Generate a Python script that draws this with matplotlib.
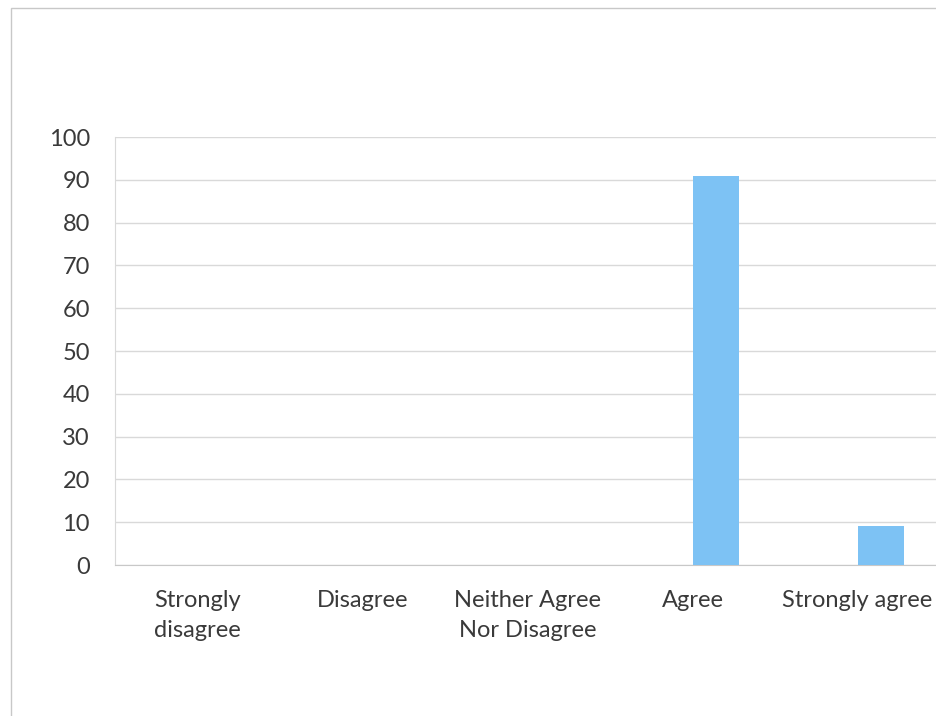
import matplotlib
matplotlib.use("Agg")
import matplotlib.pyplot as plt
from matplotlib.patches import Rectangle

# categories and values (percent)
categories = ["Strongly\ndisagree", "Disagree", "Neither Agree\nNor Disagree", "Agree", "Strongly agree"]
values = [0, 0, 0, 90.9, 9.1]
y_ticks = [0, 10, 20, 30, 40, 50, 60, 70, 80, 90, 100]

plt.rcParams['font.family'] = ['Lato', 'DejaVu Sans']

W, H = 936, 716
fig = plt.figure(figsize=(W / 100, H / 100), dpi=100)

# outer chart frame (cut off at right / bottom like the reference)
fig.patches.append(Rectangle((11 / W, -0.05), 1.1, (H - 8) / H + 0.05,
                             transform=fig.transFigure, fill=False,
                             edgecolor='#c8c8c8', linewidth=1.0))

ax = fig.add_axes([115 / W, 151 / H, 825 / W, 428 / H])
x = list(range(len(categories)))
ax.bar(x, values, width=0.28, align='edge', color='#7DC2F4', zorder=3)

ax.set_xlim(-0.5, len(categories) - 0.5)
ax.set_ylim(0, 100)
ax.set_yticks(y_ticks)
ax.set_xticks(x)
ax.set_xticklabels(categories, linespacing=1.55)

ax.grid(axis='y', color='#d9d9d9', linewidth=1.0, zorder=0)
for side in ['top', 'right']:
    ax.spines[side].set_visible(False)
ax.spines['left'].set_color('#d9d9d9')
ax.spines['bottom'].set_color('#c8c8c8')
ax.tick_params(axis='both', length=0, labelsize=17, colors='#3a3a3a')
ax.tick_params(axis='x', pad=18)
ax.tick_params(axis='y', pad=18)

fig.savefig("out.png", dpi=100)
